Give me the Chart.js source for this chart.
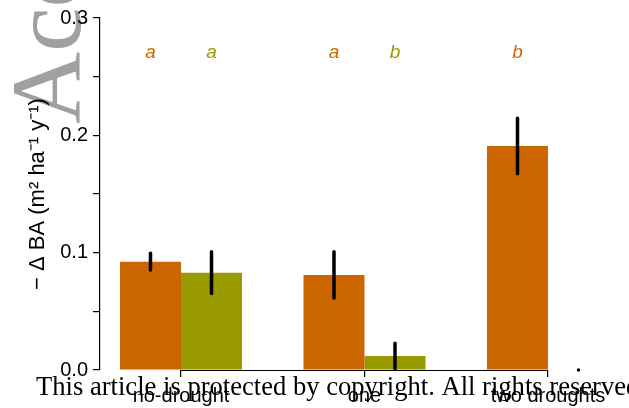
<!DOCTYPE html>
<html><head><meta charset="utf-8">
<script src="https://cdn.jsdelivr.net/npm/chart.js@4/dist/chart.umd.min.js"></script>
<style>html,body{margin:0;padding:0;background:#fff}#wrap{width:629px;height:408px;position:relative}</style>
</head><body><div id="wrap"><canvas id="c" width="629" height="408"></canvas></div>
<script>
const categories = ['no-drought', 'one', 'two droughts'];
const valuesOrange = [0.0923, 0.0810, 0.1909];
const valuesOlive = [0.0829, 0.0119, 0.0];
const errOrange = [0.0071, 0.0197, 0.0237];
const errOlive = [0.0178, 0.0110, 0.0];
const lettersOrange = ['a', 'a', 'b'];
const lettersOlive = ['a', 'b', ''];
const yTickLabels = ['0.0', '0.1', '0.2', '0.3'];

const ORANGE = '#cc6600', OLIVE = '#999900';
const FONT = '"Liberation Sans", Arial, sans-serif';

const errs = [errOrange, errOlive];
const letters = [lettersOrange, lettersOlive];

const decor = {
  id: 'decor',
  beforeDraw(chart) {
    const ctx = chart.ctx;
    ctx.save();
    ctx.translate(80, 124);
    ctx.rotate(-Math.PI / 2);
    ctx.fillStyle = '#a0a0a0';
    ctx.font = '100px "Liberation Serif", "Times New Roman", serif';
    ctx.textBaseline = 'alphabetic';
    ctx.textAlign = 'left';
    ctx.fillText('Accepted Article', 0, 0);
    ctx.restore();
  },
  afterDatasetsDraw(chart) {
    const ctx = chart.ctx;
    const xs = chart.scales.x, ys = chart.scales.y;
    ctx.save();
    chart.data.datasets.forEach((ds, i) => {
      const meta = chart.getDatasetMeta(i);
      meta.data.forEach((bar, j) => {
        const v = ds.data[j].y, e = errs[i][j];
        ctx.beginPath();
        ctx.strokeStyle = '#000';
        ctx.lineWidth = 3.5;
        ctx.lineCap = 'round';
        ctx.moveTo(bar.x, ys.getPixelForValue(v + e));
        ctx.lineTo(bar.x, ys.getPixelForValue(Math.max(v - e, 0)) - (e === 0 ? 0.01 : 0));
        ctx.stroke();
        const L = letters[i][j];
        if (L) {
          ctx.fillStyle = ds.backgroundColor;
          ctx.font = 'italic 19px ' + FONT;
          ctx.textAlign = 'center';
          ctx.textBaseline = 'middle';
          ctx.fillText(L, bar.x, ys.getPixelForValue(0.27));
        }
      });
    });
    ctx.beginPath();
    ctx.strokeStyle = '#000';
    ctx.lineWidth = 1.2;
    ctx.lineCap = 'butt';
    const yb = Math.round(xs.top) + 0.5;
    ctx.moveTo(xs.getPixelForValue(0), yb);
    ctx.lineTo(xs.getPixelForValue(categories.length - 1), yb);
    ctx.stroke();
    ctx.restore();
  },
  afterDraw(chart) {
    const ctx = chart.ctx;
    ctx.save();
    ctx.fillStyle = '#000';
    ctx.font = '26.6px "Liberation Serif", "Times New Roman", serif';
    ctx.textAlign = 'left';
    ctx.textBaseline = 'alphabetic';
    ctx.fillText('This article is protected by copyright. All rights reserved', 36, 395);
    ctx.restore();
  }
};

new Chart(document.getElementById('c'), {
  type: 'bar',
  data: {
    datasets: [
      { label: 'orange', data: valuesOrange.map((y, i) => ({ x: i, y })), backgroundColor: ORANGE, borderWidth: 0 },
      { label: 'olive', data: valuesOlive.map((y, i) => ({ x: i, y })), backgroundColor: OLIVE, borderWidth: 0 }
    ]
  },
  options: {
    responsive: false,
    animation: false,
    devicePixelRatio: 1,
    layout: { padding: { top: 18, right: 9, bottom: 0, left: 0 } },
    datasets: { bar: { categoryPercentage: 0.665, barPercentage: 1.0 } },
    plugins: { legend: { display: false }, tooltip: { enabled: false } },
    scales: {
      x: {
        type: 'linear',
        offset: false,
        min: -0.4414,
        max: 2.3924,
        afterBuildTicks(scale) { scale.ticks = categories.map((c, i) => ({ value: i })); },
        afterFit(scale) { scale.height = 38; },
        grid: { display: true, offset: false, drawOnChartArea: false, drawTicks: true, tickLength: 7, color: '#000', lineWidth: 1.2 },
        border: { display: false },
        ticks: {
          autoSkip: false, maxRotation: 0, padding: 7,
          color: '#000', font: { family: FONT, size: 20 },
          callback: (v) => categories[v] !== undefined ? categories[v] : ''
        }
      },
      y: {
        min: 0, max: 0.3,
        afterFit(scale) { scale.width = 100; },
        grid: { display: true, offset: false, drawOnChartArea: false, drawTicks: true, tickLength: 7, color: '#000', lineWidth: 1.2 },
        border: { display: true, color: '#000', width: 1.2 },
        ticks: {
          stepSize: 0.05, autoSkip: false, padding: 5,
          color: '#000', font: { family: FONT, size: 20 },
          callback: (v) => {
            const k = Math.round(v * 10);
            return Math.abs(v * 10 - k) < 1e-6 ? yTickLabels[k] : '';
          }
        },
        title: {
          display: true,
          text: '\u2212 \u0394 BA (m\u00b2 ha\u207b\u00b9 y\u207b\u00b9)',
          color: '#000',
          font: { family: FONT, size: 22 },
          padding: { top: 25, bottom: 0 }
        }
      }
    }
  },
  plugins: [decor]
});
</script></body></html>
